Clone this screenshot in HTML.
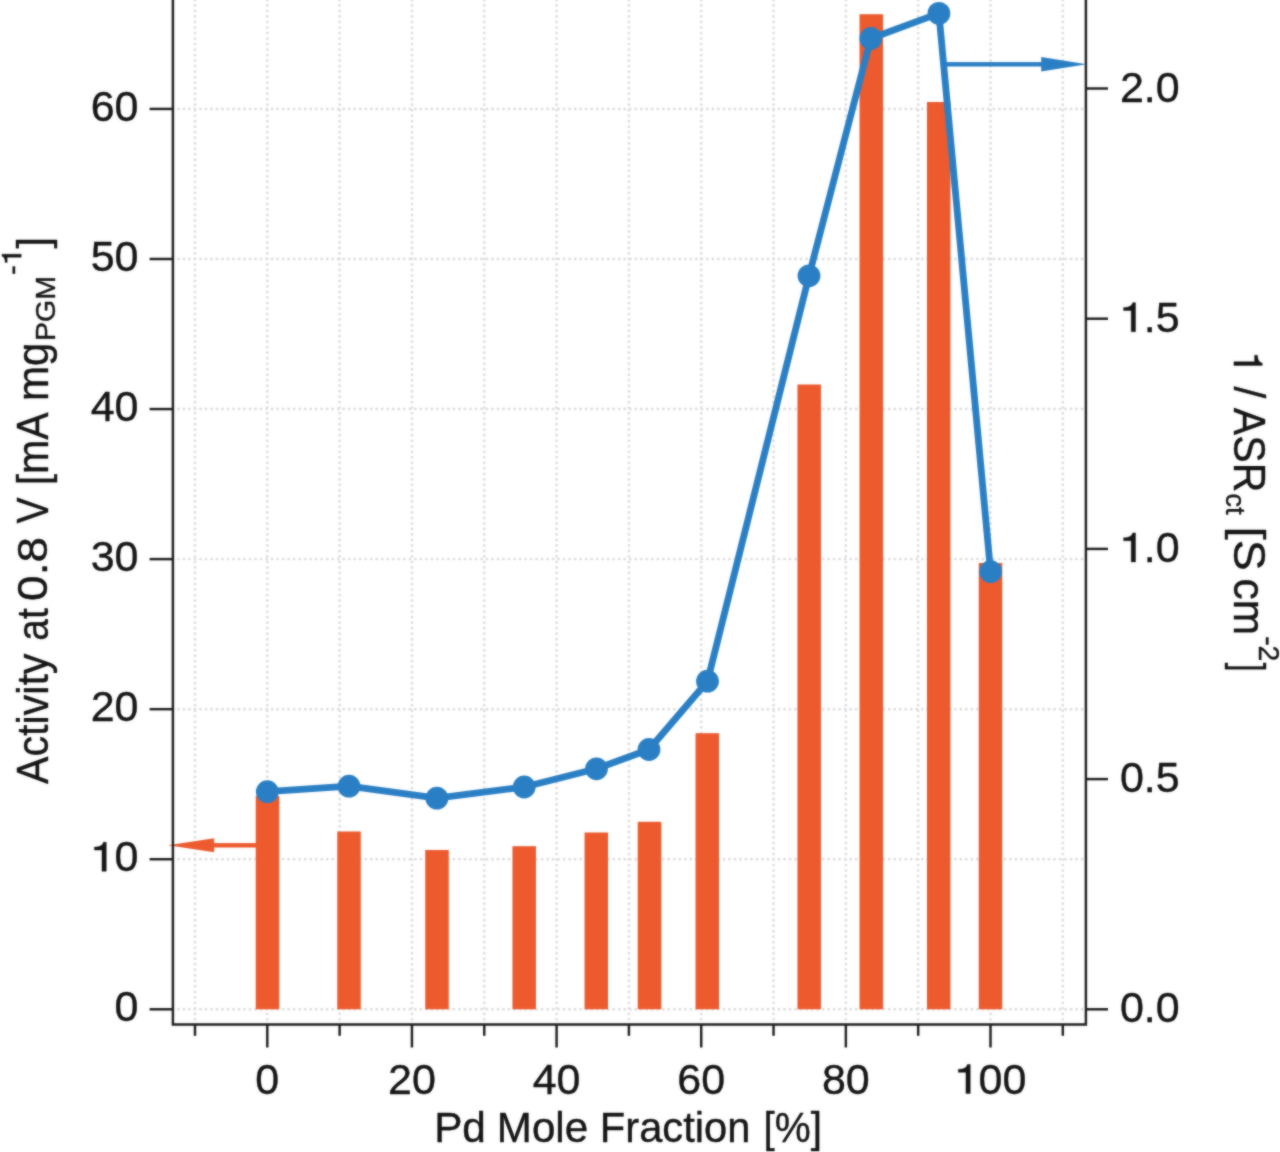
<!DOCTYPE html>
<html><head><meta charset="utf-8"><title>chart</title>
<style>html,body{margin:0;padding:0;background:#fff;}body{width:1280px;height:1152px;overflow:hidden;position:relative;}svg{display:block;}text{font-family:"Liberation Sans",sans-serif;fill:#141414;stroke:#141414;stroke-width:0.4px;stroke-linejoin:round;font-kerning:none;font-variant-ligatures:none;}path.t{fill:#141414;stroke:#141414;stroke-linejoin:round;}</style></head><body>
<svg width="1320" height="1192" viewBox="-20 -20 1320 1192" style="position:absolute;left:-20px;top:-20px;filter:url(#bl)">
<defs><filter id="bl" x="0" y="0" width="100%" height="100%" color-interpolation-filters="sRGB"><feGaussianBlur stdDeviation="0.9" result="b"/><feComposite in="b" in2="SourceGraphic" operator="arithmetic" k1="0" k2="0.55" k3="0.44999999999999996" k4="0"/></filter></defs>
<rect x="-20" y="-20" width="1320" height="1192" fill="#ffffff"/>
<g stroke="#dedede" stroke-width="2.9" stroke-linecap="round" stroke-dasharray="0.01 5.5" fill="none">
<line x1="194.98" y1="-16.5" x2="194.98" y2="1024.50"/>
<line x1="267.30" y1="-16.5" x2="267.30" y2="1024.50"/>
<line x1="339.62" y1="-16.5" x2="339.62" y2="1024.50"/>
<line x1="411.94" y1="-16.5" x2="411.94" y2="1024.50"/>
<line x1="484.26" y1="-16.5" x2="484.26" y2="1024.50"/>
<line x1="556.58" y1="-16.5" x2="556.58" y2="1024.50"/>
<line x1="628.90" y1="-16.5" x2="628.90" y2="1024.50"/>
<line x1="701.22" y1="-16.5" x2="701.22" y2="1024.50"/>
<line x1="773.54" y1="-16.5" x2="773.54" y2="1024.50"/>
<line x1="845.86" y1="-16.5" x2="845.86" y2="1024.50"/>
<line x1="918.18" y1="-16.5" x2="918.18" y2="1024.50"/>
<line x1="990.50" y1="-16.5" x2="990.50" y2="1024.50"/>
<line x1="1062.82" y1="-16.5" x2="1062.82" y2="1024.50"/>
<line x1="172.90" y1="1009.30" x2="1085.90" y2="1009.30"/>
<line x1="172.90" y1="859.24" x2="1085.90" y2="859.24"/>
<line x1="172.90" y1="709.18" x2="1085.90" y2="709.18"/>
<line x1="172.90" y1="559.12" x2="1085.90" y2="559.12"/>
<line x1="172.90" y1="409.06" x2="1085.90" y2="409.06"/>
<line x1="172.90" y1="259.00" x2="1085.90" y2="259.00"/>
<line x1="172.90" y1="108.94" x2="1085.90" y2="108.94"/>
</g>
<g fill="#EC5A2E">
<rect x="255.75" y="796.00" width="23.50" height="213.30"/>
<rect x="337.25" y="831.50" width="23.50" height="177.80"/>
<rect x="425.25" y="850.00" width="23.50" height="159.30"/>
<rect x="512.45" y="846.20" width="23.50" height="163.10"/>
<rect x="584.55" y="832.50" width="23.50" height="176.80"/>
<rect x="637.75" y="821.80" width="23.50" height="187.50"/>
<rect x="695.55" y="733.20" width="23.50" height="276.10"/>
<rect x="797.45" y="384.50" width="23.50" height="624.80"/>
<rect x="859.55" y="14.20" width="23.50" height="995.10"/>
<rect x="926.95" y="102.00" width="23.50" height="907.30"/>
<rect x="978.75" y="563.00" width="23.50" height="446.30"/>
</g>
<g fill="#EC5A2E" stroke="none"><rect x="212" y="843.10" width="44.00" height="4.4"/><polygon points="168,845.30 214.2,838.30 214.2,852.30"/></g>
<g stroke="#1e1e1e" stroke-width="2.45" fill="none" stroke-linecap="butt">
<path d="M172.90 -20 V1024.50 H1085.90 V-20"/>
<line x1="194.98" y1="1024.50" x2="194.98" y2="1035.80"/>
<line x1="267.30" y1="1024.50" x2="267.30" y2="1047.50"/>
<line x1="339.62" y1="1024.50" x2="339.62" y2="1035.80"/>
<line x1="411.94" y1="1024.50" x2="411.94" y2="1047.50"/>
<line x1="484.26" y1="1024.50" x2="484.26" y2="1035.80"/>
<line x1="556.58" y1="1024.50" x2="556.58" y2="1047.50"/>
<line x1="628.90" y1="1024.50" x2="628.90" y2="1035.80"/>
<line x1="701.22" y1="1024.50" x2="701.22" y2="1047.50"/>
<line x1="773.54" y1="1024.50" x2="773.54" y2="1035.80"/>
<line x1="845.86" y1="1024.50" x2="845.86" y2="1047.50"/>
<line x1="918.18" y1="1024.50" x2="918.18" y2="1035.80"/>
<line x1="990.50" y1="1024.50" x2="990.50" y2="1047.50"/>
<line x1="1062.82" y1="1024.50" x2="1062.82" y2="1035.80"/>
<line x1="149.6" y1="1009.30" x2="172.90" y2="1009.30"/>
<line x1="149.6" y1="859.24" x2="172.90" y2="859.24"/>
<line x1="149.6" y1="709.18" x2="172.90" y2="709.18"/>
<line x1="149.6" y1="559.12" x2="172.90" y2="559.12"/>
<line x1="149.6" y1="409.06" x2="172.90" y2="409.06"/>
<line x1="149.6" y1="259.00" x2="172.90" y2="259.00"/>
<line x1="149.6" y1="108.94" x2="172.90" y2="108.94"/>
<line x1="1085.90" y1="1009.30" x2="1108" y2="1009.30"/>
<line x1="1085.90" y1="779.10" x2="1108" y2="779.10"/>
<line x1="1085.90" y1="548.90" x2="1108" y2="548.90"/>
<line x1="1085.90" y1="318.70" x2="1108" y2="318.70"/>
<line x1="1085.90" y1="88.50" x2="1108" y2="88.50"/>
</g>
<polyline points="267.30,791.70 349.00,786.20 436.90,798.20 524.20,787.00 596.50,768.80 649.00,749.50 707.50,681.20 809.00,275.80 870.80,38.50 938.90,13.40 990.60,571.60" fill="none" stroke="#2A7FC4" stroke-width="6.80" stroke-linejoin="round"/>
<g fill="#2A7FC4">
<circle cx="267.30" cy="791.70" r="11.40"/>
<circle cx="349.00" cy="786.20" r="11.40"/>
<circle cx="436.90" cy="798.20" r="11.40"/>
<circle cx="524.20" cy="787.00" r="11.40"/>
<circle cx="596.50" cy="768.80" r="11.40"/>
<circle cx="649.00" cy="749.50" r="11.40"/>
<circle cx="707.50" cy="681.20" r="11.40"/>
<circle cx="809.00" cy="275.80" r="11.40"/>
<circle cx="870.80" cy="38.50" r="11.40"/>
<circle cx="938.90" cy="13.40" r="11.40"/>
<circle cx="990.60" cy="571.60" r="11.40"/>
</g>
<g fill="#2A7FC4" stroke="none"><rect x="944" y="62.10" width="99.00" height="4.4"/><polygon points="1086.5,64.30 1041.2,57.10 1041.2,71.50"/></g>
<g transform="translate(114.59,1021.30)"><text x="0.000" y="0" font-size="43">0</text></g>
<g transform="translate(90.67,871.24)"><path class="t" transform="translate(0.000,0) scale(43)" stroke-width="0.00930" d="M0.363,0 L0.363,-0.675 L0.295,-0.675 C0.282,-0.605 0.22,-0.566 0.086,-0.562 L0.086,-0.492 L0.263,-0.492 L0.263,0 Z"/><text x="23.915" y="0" font-size="43">0</text></g>
<g transform="translate(90.67,721.18)"><text x="0.000" y="0" font-size="43">20</text></g>
<g transform="translate(90.67,571.12)"><text x="0.000" y="0" font-size="43">30</text></g>
<g transform="translate(90.67,421.06)"><text x="0.000" y="0" font-size="43">40</text></g>
<g transform="translate(90.67,271.00)"><text x="0.000" y="0" font-size="43">50</text></g>
<g transform="translate(90.67,120.94)"><text x="0.000" y="0" font-size="43">60</text></g>
<g transform="translate(255.34,1093.50)"><text x="0.000" y="0" font-size="43">0</text></g>
<g transform="translate(388.03,1093.50)"><text x="0.000" y="0" font-size="43">20</text></g>
<g transform="translate(532.67,1093.50)"><text x="0.000" y="0" font-size="43">40</text></g>
<g transform="translate(677.31,1093.50)"><text x="0.000" y="0" font-size="43">60</text></g>
<g transform="translate(821.95,1093.50)"><text x="0.000" y="0" font-size="43">80</text></g>
<g transform="translate(954.63,1093.50)"><path class="t" transform="translate(0.000,0) scale(43)" stroke-width="0.00930" d="M0.363,0 L0.363,-0.675 L0.295,-0.675 C0.282,-0.605 0.22,-0.566 0.086,-0.562 L0.086,-0.492 L0.263,-0.492 L0.263,0 Z"/><text x="23.915" y="0" font-size="43">00</text></g>
<g transform="translate(1119.90,1022.30)"><text x="0.000" y="0" font-size="43">0.0</text></g>
<g transform="translate(1119.90,792.10)"><text x="0.000" y="0" font-size="43">0.5</text></g>
<g transform="translate(1119.90,561.90)"><path class="t" transform="translate(0.000,0) scale(43)" stroke-width="0.00930" d="M0.363,0 L0.363,-0.675 L0.295,-0.675 C0.282,-0.605 0.22,-0.566 0.086,-0.562 L0.086,-0.492 L0.263,-0.492 L0.263,0 Z"/><text x="23.915" y="0" font-size="43">.0</text></g>
<g transform="translate(1119.90,331.70)"><path class="t" transform="translate(0.000,0) scale(43)" stroke-width="0.00930" d="M0.363,0 L0.363,-0.675 L0.295,-0.675 C0.282,-0.605 0.22,-0.566 0.086,-0.562 L0.086,-0.492 L0.263,-0.492 L0.263,0 Z"/><text x="23.915" y="0" font-size="43">.5</text></g>
<g transform="translate(1119.90,101.50)"><text x="0.000" y="0" font-size="43">2.0</text></g>
<g transform="translate(434.13,1142.00) scale(0.9850,1.0000)"><text x="0.000" y="0" font-size="43">Pd</text></g>
<g transform="translate(496.84,1142.00) scale(0.9799,1.0000)"><text x="0.000" y="0" font-size="43">Mole</text></g>
<g transform="translate(599.78,1142.00) scale(0.9697,1.0000)"><text x="0.000" y="0" font-size="43">Fraction</text></g>
<g transform="translate(763.42,1142.00) scale(0.9411,1.0000)"><text x="0.000" y="0" font-size="43">[&#37;]</text></g>
<g transform="translate(47.50,784.08) rotate(-90) scale(0.9369,1.0000)"><text x="0.000" y="0" font-size="44">Activity</text></g>
<g transform="translate(47.50,640.65) rotate(-90) scale(0.8840,1.0000)"><text x="0.000" y="0" font-size="44">at</text></g>
<g transform="translate(47.20,600.90) rotate(-90) scale(1.0943,1.0000)"><text x="0.000" y="0" font-size="42">0.8</text></g>
<g transform="translate(47.50,523.52) rotate(-90) scale(0.8891,1.0000)"><text x="0.000" y="0" font-size="44">V</text></g>
<g transform="translate(47.50,485.33) rotate(-90) scale(0.9346,1.0000)"><text x="0.000" y="0" font-size="44">[mA</text></g>
<g transform="translate(47.50,401.00) rotate(-90) scale(0.9573,1.0000)"><text x="0.000" y="0" font-size="44">mg</text></g>
<g transform="translate(54.90,340.94) rotate(-90) scale(0.9993,1.0000)"><text x="0.000" y="0" font-size="28.5">PGM</text></g>
<g transform="translate(21.20,274.92) rotate(-90) scale(1.0447,1.0000)"><text x="0.000" y="0" font-size="28.5">-</text><path class="t" transform="translate(9.491,0) scale(28.5)" stroke-width="0.01404" d="M0.363,0 L0.363,-0.675 L0.295,-0.675 C0.282,-0.605 0.22,-0.566 0.086,-0.562 L0.086,-0.492 L0.263,-0.492 L0.263,0 Z"/></g>
<g transform="translate(47.50,248.62) rotate(-90) scale(0.9378,1.0000)"><text x="0.000" y="0" font-size="44">]</text></g>
<g transform="translate(1233.90,352.03) rotate(90) scale(0.8767,1.0000)"><path class="t" transform="translate(0.000,0) scale(42)" stroke-width="0.00952" d="M0.363,0 L0.363,-0.675 L0.295,-0.675 C0.282,-0.605 0.22,-0.566 0.086,-0.562 L0.086,-0.492 L0.263,-0.492 L0.263,0 Z"/></g>
<g transform="translate(1233.60,386.40) rotate(90) scale(0.9653,1.0000)"><text x="0.000" y="0" font-size="44">/</text></g>
<g transform="translate(1233.60,407.82) rotate(90) scale(0.9339,1.0000)"><text x="0.000" y="0" font-size="44">ASR</text></g>
<g transform="translate(1225.80,493.13) rotate(90) scale(0.9687,1.0000)"><text x="0.000" y="0" font-size="28.5">ct</text></g>
<g transform="translate(1233.60,526.81) rotate(90) scale(1.0504,1.0000)"><text x="0.000" y="0" font-size="44">[S</text></g>
<g transform="translate(1233.60,578.60) rotate(90) scale(0.9651,1.0000)"><text x="0.000" y="0" font-size="44">cm</text></g>
<g transform="translate(1259.30,636.14) rotate(90) scale(0.9483,1.0000)"><text x="0.000" y="0" font-size="30">-2</text></g>
<g transform="translate(1233.60,662.66) rotate(90) scale(0.7090,1.0000)"><text x="0.000" y="0" font-size="44">]</text></g>
</svg></body></html>
